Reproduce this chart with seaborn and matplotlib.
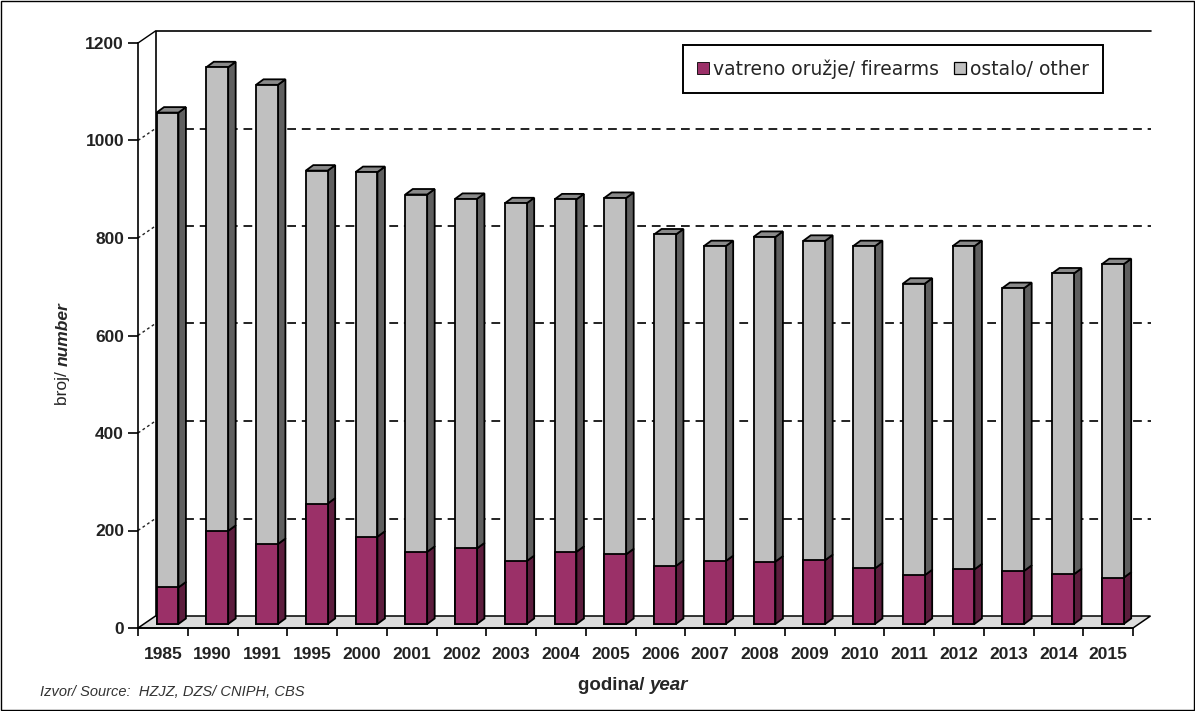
import matplotlib
matplotlib.use("Agg")
import matplotlib.pyplot as plt
import numpy as np
import pandas as pd
import seaborn as sns
from matplotlib.patches import Patch, Polygon, Rectangle

YEARS = ["1985", "1990", "1991", "1995", "2000", "2001", "2002", "2003", "2004", "2005",
         "2006", "2007", "2008", "2009", "2010", "2011", "2012", "2013", "2014", "2015"]
FIREARMS = [75, 191, 164, 247, 179, 148, 155, 129, 148, 143,
            119, 129, 128, 131, 114, 100, 112, 109, 102, 95]
TOTAL = [1049, 1142, 1106, 930, 927, 881, 872, 863, 871, 874,
         799, 775, 794, 786, 775, 698, 775, 689, 719, 738]
OTHER = [t - f for t, f in zip(TOTAL, FIREARMS)]
Y_TICKS = [0, 200, 400, 600, 800, 1000, 1200]

PURPLE, PURPLE_SIDE = "#9b3068", "#5c1d3d"
GRAY, GRAY_SIDE, GRAY_TOP = "#c0c0c0", "#5f5f5f", "#8a8a8a"
FLOOR = "#dcdcdc"

sns.set_theme(style="white")
plt.rcParams["font.family"] = ["Liberation Sans", "DejaVu Sans"]

W, H = 1195, 711
fig = plt.figure(figsize=(W / 100, H / 100), dpi=100)
ax_l, ax_r, ax_t, ax_b = 138, 1133, 43, 628
ax = fig.add_axes([ax_l / W, (H - ax_b) / H, (ax_r - ax_l) / W, (ax_b - ax_t) / H])

# pixel -> data conversion for the fake 3d depth
n = len(YEARS)
px_x = n / (ax_r - ax_l)
px_y = 1200 / (ax_b - ax_t)
BX, BY = 17.5 * px_x, 12 * px_y      # back wall offset
FX, FY = 4.6 * px_x, 4 * px_y        # bar front face offset
SX, SY = 7.5 * px_x, 5.5 * px_y      # bar depth
EDGE = 1.3

df = pd.DataFrame({"year": YEARS, "firearms": FIREARMS, "other": OTHER})
df["total"] = df["firearms"] + df["other"]

sns.barplot(df, x="year", y="total", color=GRAY, saturation=1, width=0.44,
            edgecolor="black", linewidth=EDGE, ax=ax, zorder=3)
n_gray = len(ax.patches)
sns.barplot(df, x="year", y="firearms", color=PURPLE, saturation=1, width=0.44,
            edgecolor="black", linewidth=EDGE, ax=ax, zorder=4)

x0, x1 = -0.5, n - 0.5
ax.set_xlim(x0, x1)
ax.set_ylim(0, 1200)

gray_bars = ax.patches[:n_gray]
purple_bars = ax.patches[n_gray:]
for gb, pb in zip(gray_bars, purple_bars):
    for p in (gb, pb):
        p.set_x(p.get_x() + FX)
        p.set_y(p.get_y() + FY)
    xl, xr = gb.get_x(), gb.get_x() + gb.get_width()
    base = gb.get_y()
    top = base + gb.get_height()
    mid = base + pb.get_height()
    ax.add_patch(Polygon([(xr, base), (xr + SX, base + SY), (xr + SX, mid + SY), (xr, mid)],
                         closed=True, facecolor=PURPLE_SIDE, edgecolor="black", lw=EDGE,
                         zorder=2.5, clip_on=False))
    ax.add_patch(Polygon([(xr, mid), (xr + SX, mid + SY), (xr + SX, top + SY), (xr, top)],
                         closed=True, facecolor=GRAY_SIDE, edgecolor="black", lw=EDGE,
                         zorder=2.5, clip_on=False))
    ax.add_patch(Polygon([(xl, top), (xr, top), (xr + SX, top + SY), (xl + SX, top + SY)],
                         closed=True, facecolor=GRAY_TOP, edgecolor="black", lw=EDGE,
                         zorder=2.5, clip_on=False))
    for p in (gb, pb):
        p.set_clip_on(False)

# floor
ax.add_patch(Polygon([(x0, 0), (x1, 0), (x1 + BX, BY), (x0 + BX, BY)], closed=True,
                     facecolor=FLOOR, edgecolor="black", lw=1.1, zorder=1, clip_on=False))
# back wall and grid
ax.plot([x0 + BX, x0 + BX, x1 + BX], [BY, 1200 + BY, 1200 + BY], color="black", lw=1.2,
        zorder=1, clip_on=False)
for v in Y_TICKS[1:-1]:
    ax.plot([x0 + BX, x1 + BX], [v + BY, v + BY], color="#222222", lw=1.4,
            ls=(0, (4.5, 3)), zorder=1, clip_on=False)
    ax.plot([x0, x0 + BX], [v, v + BY], color="#222222", lw=1.0,
            ls=(0, (2, 2)), zorder=1, clip_on=False)
ax.plot([x0, x0 + BX], [1200, 1200 + BY], color="black", lw=1.0, zorder=1, clip_on=False)

for s in ("top", "right"):
    ax.spines[s].set_visible(False)
for s in ("left", "bottom"):
    ax.spines[s].set_color("black")
    ax.spines[s].set_linewidth(1.2)
    ax.spines[s].set_zorder(5)

ax.set_yticks(Y_TICKS)
ax.set_yticklabels([str(v) for v in Y_TICKS], fontweight="bold", fontsize=12.5, color="#222222")
ax.tick_params(axis="y", which="major", direction="out", length=7, width=1.2, color="black",
               left=True, pad=3)
ax.set_xticks(range(n))
ax.set_xticklabels(YEARS, fontweight="bold", fontsize=12.5, color="#222222")
ax.set_xticks(np.arange(n + 1) - 0.5, minor=True)
ax.tick_params(axis="x", which="major", length=0, pad=14)
ax.tick_params(axis="x", which="minor", direction="out", length=6, width=1.2, color="black",
               bottom=True)
ax.set_xlabel("")
ax.set_ylabel("")
ax.grid(False)

# axis titles with mixed styles
yl = fig.text(63 / W, 1 - 405 / H, "broj/ ", rotation=90, ha="center", va="bottom",
              fontsize=12.5)
ax.annotate("number", xy=(0.5, 1), xycoords=yl, rotation=90, ha="center", va="bottom",
            fontsize=12.5, fontweight="bold", fontstyle="italic")
xl_txt = fig.text(578 / W, 1 - 685 / H, "godina/ ", ha="left", va="center", fontsize=13.5,
                  fontweight="bold")
ax.annotate("year", xy=(1, 0.5), xycoords=xl_txt, ha="left", va="center", fontsize=13.5,
            fontweight="bold", fontstyle="italic")
fig.text(40 / W, 1 - 692 / H, "Izvor/ Source:  HZJZ, DZS/ CNIPH, CBS", ha="left", va="center",
         fontsize=10.5, fontstyle="italic", color="#333333")

handles = [Patch(facecolor=PURPLE, edgecolor="black", lw=0.6, label="vatreno oružje/ firearms"),
           Patch(facecolor=GRAY, edgecolor="black", lw=0.9, label="ostalo/ other")]
leg = fig.legend(handles=handles, loc="upper left", bbox_to_anchor=(683 / W, 1 - 45 / H),
                 bbox_transform=fig.transFigure, ncol=2, frameon=True, fancybox=False,
                 edgecolor="black", framealpha=1, borderaxespad=0, borderpad=0.75,
                 handlelength=0.65, handleheight=0.65, handletextpad=0.2, columnspacing=0.8,
                 prop={"family": "DejaVu Sans", "size": 13.5})
leg.get_frame().set_linewidth(1.4)

fig.patches.append(Rectangle((0.0008, 0.0012), 0.9984, 0.9976, transform=fig.transFigure,
                             fill=False, edgecolor="black", lw=1))

fig.savefig("out.png", dpi=100)
